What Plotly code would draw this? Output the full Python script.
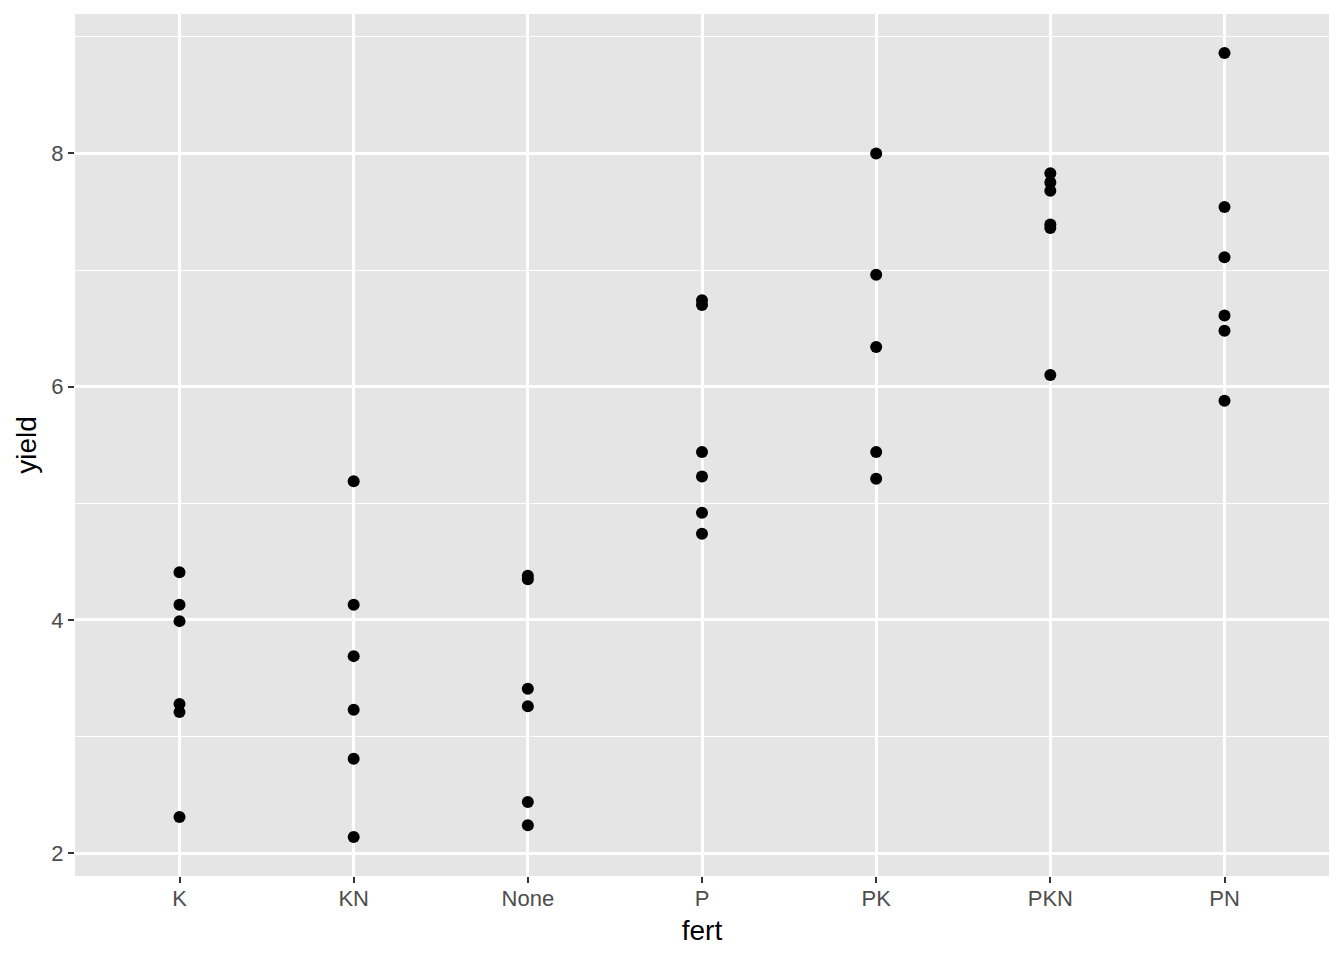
import plotly.graph_objects as go

categories = ["K", "KN", "None", "P", "PK", "PKN", "PN"]
k_yield = [4.41, 4.13, 3.99, 3.28, 3.21, 2.31]
kn_yield = [5.19, 4.13, 3.69, 3.23, 2.81, 2.14]
none_yield = [4.38, 4.35, 3.41, 3.26, 2.44, 2.24]
p_yield = [6.74, 6.70, 5.44, 5.23, 4.92, 4.74]
pk_yield = [8.00, 6.96, 6.34, 5.44, 5.21]
pkn_yield = [7.83, 7.75, 7.68, 7.39, 7.36, 6.10]
pn_yield = [8.86, 7.54, 7.11, 6.61, 6.48, 5.88]
y_ticks = [2, 4, 6, 8]
y_minor = [3, 5, 7, 9]

groups = [k_yield, kn_yield, none_yield, p_yield, pk_yield, pkn_yield, pn_yield]
xs, ys = [], []
for cat, vals in zip(categories, groups):
    for v in vals:
        xs.append(cat)
        ys.append(v)

fig = go.Figure(go.Scatter(
    x=xs, y=ys, mode="markers",
    marker=dict(color="black", size=12, line=dict(width=0)),
    showlegend=False,
))

fig.update_layout(
    width=1328, height=944,
    margin=dict(l=67, r=7, t=6, b=76),
    paper_bgcolor="white",
    plot_bgcolor="#E5E5E5",
    font=dict(family="Liberation Sans, Arial, sans-serif", color="#4D4D4D"),
    xaxis=dict(
        type="category", categoryorder="array", categoryarray=categories,
        range=[-0.6, 6.6],
        showgrid=True, gridcolor="white", gridwidth=2.5,
        zeroline=False, showline=False,
        ticks="outside", ticklen=6, tickwidth=2, tickcolor="#333333",
        ticklabelstandoff=-3,
        tickfont=dict(size=22, color="#4D4D4D"),
        title=dict(text="fert", font=dict(size=28, color="black"), standoff=9),
    ),
    yaxis=dict(
        range=[1.805, 9.195],
        tickvals=y_ticks,
        showgrid=True, gridcolor="white", gridwidth=2.5,
        minor=dict(showgrid=True, gridcolor="white", gridwidth=1.2, tickvals=y_minor),
        zeroline=False, showline=False,
        ticks="outside", ticklen=6, tickwidth=2, tickcolor="#333333",
        tickfont=dict(size=22, color="#4D4D4D"),
        title=dict(text="yield", font=dict(size=28, color="black"), standoff=6),
    ),
)

fig.write_html("out.html")
